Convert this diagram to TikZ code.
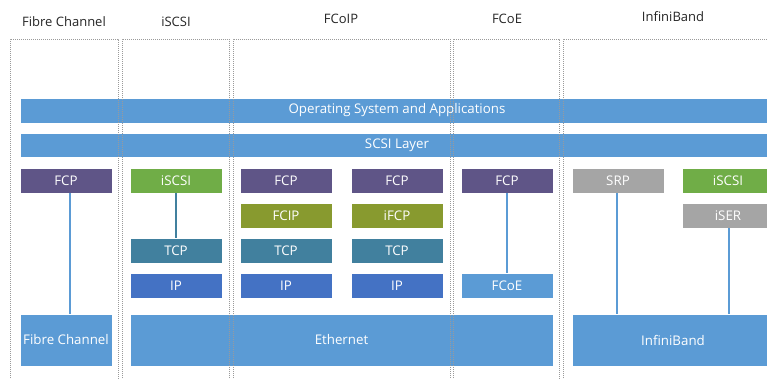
\documentclass[tikz,border=0pt]{standalone}
\usepackage{fontspec}
\setmainfont{Open Sans}
\definecolor{osblue}{HTML}{5B9BD5}
\definecolor{fcppurple}{HTML}{5F5587}
\definecolor{isgreen}{HTML}{70AD47}
\definecolor{olive}{HTML}{889A2F}
\definecolor{tcpteal}{HTML}{41809E}
\definecolor{ipblue}{HTML}{4472C4}
\definecolor{srpgray}{HTML}{A5A5A5}
\definecolor{colgray}{HTML}{9A9A9A}
\begin{document}
\begin{tikzpicture}[x=1pt,y=-1pt,
  layerbox/.style={rectangle, draw=white, line width=0.6pt, text=white, font=\fontsize{13.3}{15}\selectfont, inner sep=0pt, minimum width=92pt, minimum height=25pt},
  header/.style={font=\fontsize{13}{15}\selectfont, text=black!85},
  colframe/.style={draw=colgray, densely dotted, line width=1pt},
  link/.style={draw=osblue, line width=2pt}
]
\useasboundingbox (0,0) rectangle (767,378);
\clip (0,0) rectangle (767,378);
\fill[white] (0,0) rectangle (767,378);

% headers
\node[header] (h1) at (64,22) {Fibre Channel};
\node[header] (h2) at (176,22) {iSCSI};
\node[header] (h3) at (341,19) {FCoIP};
\node[header] (h4) at (507,19) {FCoE};
\node[header] (h5) at (673,17) {InfiniBand};

% common bars
\node[layerbox, fill=osblue, minimum width=754pt] (os) at (397,110.5) {Operating System and Applications};
\node[layerbox, fill=osblue, minimum width=754pt, minimum height=24pt] (scsi) at (397,145) {SCSI Layer};

% row 1
\node[layerbox, fill=fcppurple] (fcp1) at (66,180.5) {FCP};
\node[layerbox, fill=isgreen] (iscsi2) at (176,180.5) {iSCSI};
\node[layerbox, fill=fcppurple] (fcp3a) at (286,180.5) {FCP};
\node[layerbox, fill=fcppurple] (fcp3b) at (397,180.5) {FCP};
\node[layerbox, fill=fcppurple] (fcp4) at (507,180.5) {FCP};
\node[layerbox, fill=srpgray] (srp) at (618,180.5) {SRP};
\node[layerbox, fill=isgreen] (iscsi5) at (728,180.5) {iSCSI};

% row 2
\node[layerbox, fill=olive] (fcip) at (286,215.5) {FCIP};
\node[layerbox, fill=olive] (ifcp) at (397,215.5) {iFCP};
\node[layerbox, fill=srpgray] (iser) at (728,215.5) {iSER};

% row 3
\node[layerbox, fill=tcpteal] (tcp2) at (176,250.5) {TCP};
\node[layerbox, fill=tcpteal] (tcp3a) at (286,250.5) {TCP};
\node[layerbox, fill=tcpteal] (tcp3b) at (397,250.5) {TCP};

% row 4
\node[layerbox, fill=ipblue] (ip2) at (176,285.5) {IP};
\node[layerbox, fill=ipblue] (ip3a) at (286,285.5) {IP};
\node[layerbox, fill=ipblue] (ip3b) at (397,285.5) {IP};
\node[layerbox, fill=osblue] (fcoe) at (507,285.5) {FCoE};

% row 5
\node[layerbox, fill=osblue, minimum height=52pt] (fc) at (66,340) {Fibre Channel};
\node[layerbox, fill=osblue, minimum height=52pt, minimum width=423pt] (eth) at (341.5,340) {Ethernet};
\node[layerbox, fill=osblue, minimum height=52pt, minimum width=202pt] (ib) at (673,340) {InfiniBand};

% connectors
\draw[link] ([xshift=4pt]fcp1.south) -- ([xshift=4pt]fc.north);
\draw[link, draw=tcpteal] (iscsi2.south) -- (tcp2.north);
\draw[link] (fcp4.south) -- (fcoe.north);
\draw[link] ([xshift=-1pt]srp.south) -- ([xshift=-1pt]srp.south |- ib.north);
\draw[link] ([xshift=1pt]iser.south) -- ([xshift=1pt]iser.south |- ib.north);

% column frames
\draw[colframe] (10,380) -- (10,39) -- (118,39) -- (118,380);
\draw[colframe] (122,380) -- (122,39) -- (229.5,39) -- (229.5,380);
\draw[colframe] (233,380) -- (233,39) -- (450,39) -- (450,380);
\draw[colframe] (453,380) -- (453,39) -- (559,39) -- (559,380);
\draw[colframe] (563,380) -- (563,39) -- (770,39);
\end{tikzpicture}
\end{document}
